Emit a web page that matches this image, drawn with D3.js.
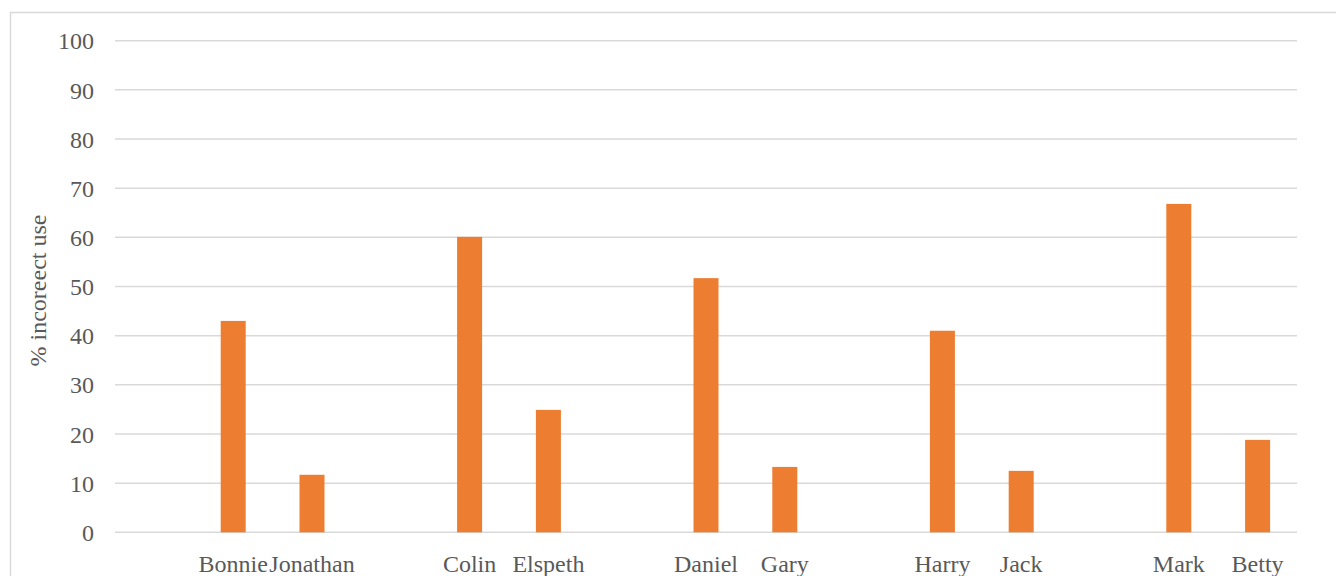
<!DOCTYPE html>
<html>
<head>
<meta charset="utf-8">
<script src="https://cdn.jsdelivr.net/npm/d3@7"></script>
<style>
  html, body { margin: 0; padding: 0; background: #ffffff; }
  svg { display: block; }
  text { font-family: "Liberation Serif", "Times New Roman", serif; fill: #595959; }
</style>
</head>
<body>
<svg id="chart" width="1336" height="576"></svg>
<script>
// Speakers, shown in pairs; each pair sits in a cluster with an empty leading slot
const groups = ["g1", "g2", "g3", "g4", "g5"];
const slots = ["lead", "first", "second"];
const firstNames = ["Bonnie", "Colin", "Daniel", "Harry", "Mark"];
const secondNames = ["Jonathan", "Elspeth", "Gary", "Jack", "Betty"];
const firstValues = [43.0, 60.1, 51.7, 41.0, 66.8];
const secondValues = [11.7, 24.9, 13.3, 12.5, 18.8];
const yTicks = [0, 10, 20, 30, 40, 50, 60, 70, 80, 90, 100];
const yTitle = "% incoreect use";

const svg = d3.select("#chart");
const plotLeft = 115, plotRight = 1297, plotTop = 40.7, plotBottom = 532.3;

// chart frame
svg.append("rect")
  .attr("x", 10.5).attr("y", 12.5)
  .attr("width", 1340).attr("height", 600)
  .attr("fill", "none").attr("stroke", "#d9d9d9").attr("stroke-width", 1.5);

const x = d3.scaleBand().domain(groups).range([plotLeft, plotRight]).padding(0);
const xs = d3.scaleBand().domain(slots).range([0, x.bandwidth()]).padding(0);
const y = d3.scaleLinear().domain([0, 100]).range([plotBottom, plotTop]);
const barW = 25;

// horizontal gridlines
svg.append("g")
  .selectAll("line")
  .data(yTicks)
  .join("line")
  .attr("x1", plotLeft).attr("x2", plotRight)
  .attr("y1", d => y(d)).attr("y2", d => y(d))
  .attr("stroke", "#d9d9d9").attr("stroke-width", 1.5);

// y axis labels
const yAxis = d3.axisLeft(y).tickValues(yTicks).tickSize(0).tickPadding(0);
svg.append("g")
  .attr("transform", `translate(${plotLeft - 21},0)`)
  .call(yAxis)
  .call(g => g.select(".domain").remove())
  .call(g => g.selectAll("text")
    .style("font-family", '"Liberation Serif", "Times New Roman", serif')
    .style("font-size", "24px")
    .attr("fill", "#595959")
    .attr("dy", "0.34em"));

// bars and labels
const rows = [];
groups.forEach((g, i) => {
  rows.push({ group: g, slot: "first", name: firstNames[i], value: firstValues[i] });
  rows.push({ group: g, slot: "second", name: secondNames[i], value: secondValues[i] });
});
const cx = d => x(d.group) + xs(d.slot) + xs.bandwidth() / 2;

svg.append("g")
  .selectAll("rect")
  .data(rows)
  .join("rect")
  .attr("x", d => cx(d) - barW / 2)
  .attr("width", barW)
  .attr("y", d => y(d.value))
  .attr("height", d => y(0) - y(d.value))
  .attr("fill", "#ED7D31");

svg.append("g")
  .selectAll("text")
  .data(rows)
  .join("text")
  .attr("x", d => cx(d))
  .attr("y", 571.5)
  .attr("text-anchor", "middle")
  .style("font-size", "24px")
  .text(d => d.name);

// y axis title
svg.append("text")
  .attr("transform", `translate(46,${(plotTop + plotBottom) / 2 + 4}) rotate(-90)`)
  .attr("text-anchor", "middle")
  .style("font-size", "24px")
  .text(yTitle);
</script>
</body>
</html>
